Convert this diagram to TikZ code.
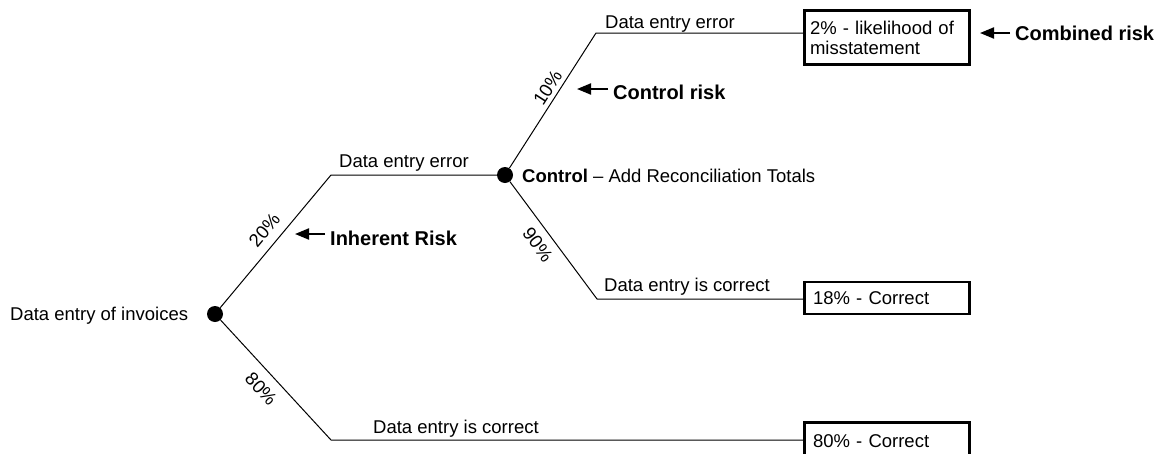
\documentclass[tikz,border=0pt]{standalone}
\usepackage{fontspec}
\setmainfont{Liberation Sans}
\usetikzlibrary{arrows.meta}
\begin{document}
\begin{tikzpicture}[x=1pt,y=-1pt,
  every node/.style={font=\fontsize{18.5}{20}\selectfont, inner sep=0pt},
  branch/.style={line width=1pt},
  dot/.style={circle, fill=black, minimum size=16pt, inner sep=0pt},
  outbox/.style={draw, line width=2.6pt, minimum width=165pt, text width=148pt, align=left, inner xsep=0pt},
  riskarrow/.style={line width=2pt, -{Triangle[length=14pt,width=11pt]}},
  risklabel/.style={font=\bfseries\fontsize{20}{24}\selectfont, anchor=base west, inner xsep=5pt},
  pct/.style={sloped},
  lbl/.style={anchor=base west}]
\clip (0,0) rectangle (1163,453);
\useasboundingbox (0,0) rectangle (1163,453);

% decision points
\node[dot] (root) at (215,314) {};
\node[dot] (ctrl) at (505,175) {};
\coordinate (c1) at (331,175);
\coordinate (c2) at (331,440);
\coordinate (c3) at (596,33);
\coordinate (c4) at (597,299);

% outcome boxes
\node[outbox, minimum height=54pt, text width=154pt] (box2) at (887,37.5) {2\% - likelihood of\\misstatement};
\node[outbox, minimum height=32pt] (box18) at (887,298) {18\% - Correct};
\node[outbox, minimum height=38pt] (box80) at (887,441.5) {80\% - Correct};

% branches
\draw[branch] (root) -- (c1) node[pct, above, pos=0.51, inner sep=9pt] {20\%} -- (ctrl);
\draw[branch] (root) -- (c2) node[pct, below, pos=0.48, inner sep=10pt] {80\%} -- (c2 -| box80.west);
\draw[branch] (ctrl) -- (c3) node[pct, above, pos=0.55, inner sep=4pt] {10\%} -- (c3 -| box2.west);
\draw[branch] (ctrl) -- (c4) node[pct, below, pos=0.46, inner sep=8pt] {90\%} -- (c4 -| box18.west);

% texts
\node[lbl] (invoices) at (10,320) {Data entry of invoices};
\node[lbl] (err1) at (339,167) {Data entry error};
\node[lbl] (ok1) at (373,433) {Data entry is correct};
\node[lbl] (err2) at (605,28) {Data entry error};
\node[lbl] (ok2) at (604,291) {Data entry is correct};
\node[lbl] (ctrltext) at (522,182) {\textbf{Control} – Add Reconciliation Totals};

% risk annotations
\node[risklabel] (inh) at (325,245) {Inherent Risk};
\node[risklabel] (conr) at (608,99) {Control risk};
\node[risklabel] (comb) at (1010,40) {Combined risk};
\coordinate (inhtip) at (295,234);
\coordinate (conrtip) at (577,89);
\coordinate (combtip) at (980,33);
\draw[riskarrow] (inh.west |- inhtip) -- (inhtip);
\draw[riskarrow] (conr.west |- conrtip) -- (conrtip);
\draw[riskarrow] (comb.west |- combtip) -- (combtip);
\end{tikzpicture}
\end{document}
